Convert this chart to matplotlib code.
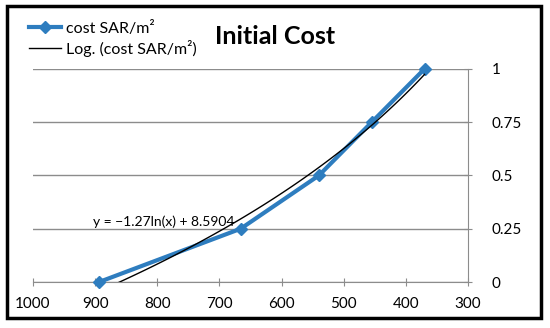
import numpy as np
from matplotlib import pyplot as plt
from matplotlib.patches import Rectangle

# values
cost_x = [894, 666, 540, 455, 370]
cost_y = [0, 0.25, 0.5, 0.75, 1]
x_ticks = [1000, 900, 800, 700, 600, 500, 400, 300]
y_ticks = [0, 0.25, 0.5, 0.75, 1]
y_labels = ['0', '0.25', '0.5', '0.75', '1']
equation = 'y = \u22121.27ln(x) + 8.5904'

plt.rcParams['font.family'] = ['Lato', 'DejaVu Sans']

fig = plt.figure(figsize=(5.5, 3.28), dpi=100)
ax = fig.add_axes([0.06, 0.14, 0.791, 0.65])

# log trendline fitted from the series
coef = np.polyfit(np.log(cost_x), cost_y, 1)
trend_x = np.linspace(cost_x[0], cost_x[-1], 100)
trend_y = coef[0] * np.log(trend_x) + coef[1]

ax.plot(cost_x, cost_y, color='#2E7DBF', lw=3, marker='D', markersize=6.5,
        label='cost SAR/m\u00b2', clip_on=False, zorder=3)
ax.plot(trend_x, trend_y, color='black', lw=1, label='Log. (cost SAR/m\u00b2)', zorder=4)

ax.set_xlim(1000, 300)
ax.set_ylim(0, 1)
ax.set_xticks(x_ticks)
ax.set_yticks(y_ticks)
ax.set_yticklabels(y_labels)
ax.yaxis.tick_right()
ax.grid(axis='y', color='#8c8c8c', lw=1)
ax.set_axisbelow(True)
for side in ['left', 'top']:
    ax.spines[side].set_visible(False)
for side in ['right', 'bottom']:
    ax.spines[side].set_color('#8c8c8c')
ax.tick_params(axis='both', direction='inout', length=6, color='#8c8c8c',
               labelsize=11, pad=4)
ax.tick_params(axis='x', pad=8)
ax.tick_params(axis='y', pad=14)

ax.text(904, 0.255, equation, fontsize=10, ha='left', va='bottom')

fig.text(0.5, 0.888, 'Initial Cost', fontsize=18, fontweight='bold', ha='center', va='center')
fig.legend(loc='upper left', bbox_to_anchor=(0.03, 0.975), frameon=False, fontsize=11.5,
           handlelength=2.0, labelspacing=0.25, borderpad=0.3, handletextpad=0.3)

fig.patches.append(Rectangle((0.013, 0.03), 0.971, 0.952, transform=fig.transFigure,
                             fill=False, edgecolor='black', lw=2.5))

fig.savefig('out.png', dpi=100)
